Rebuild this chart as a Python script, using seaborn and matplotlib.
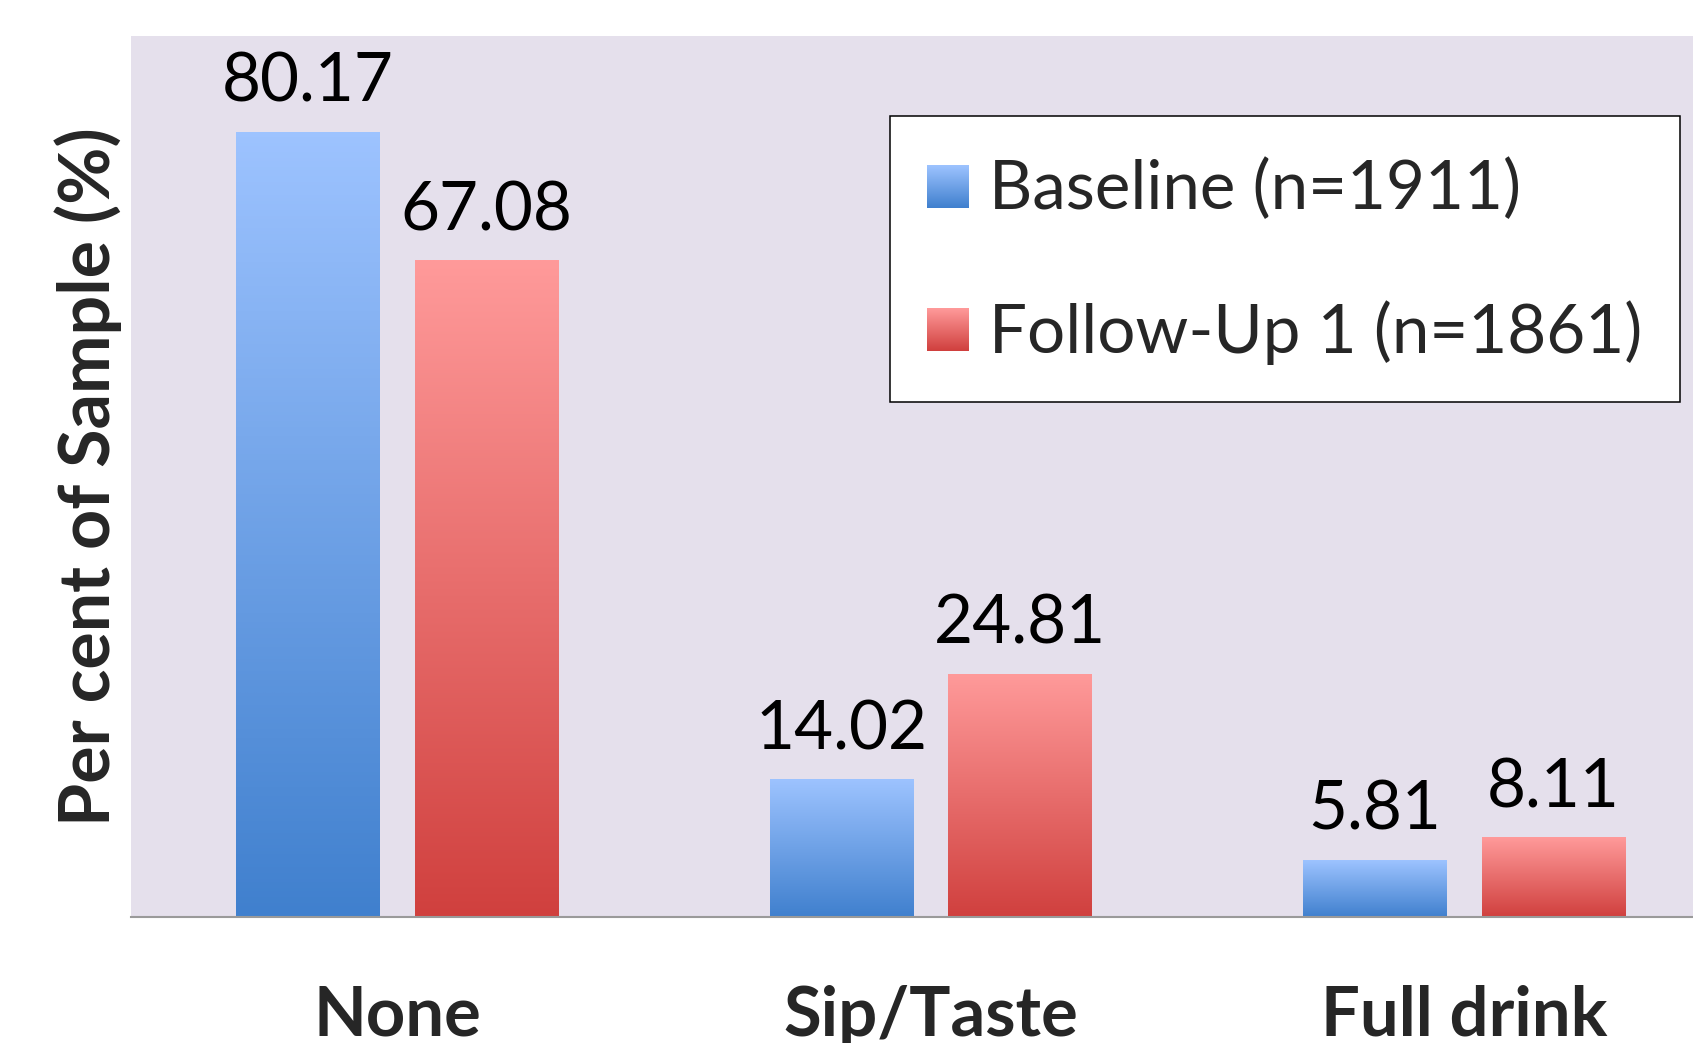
import matplotlib
matplotlib.use("Agg")
import matplotlib.pyplot as plt
import seaborn as sns
import numpy as np
import pandas as pd
from matplotlib.colors import LinearSegmentedColormap
from matplotlib.legend_handler import HandlerBase
from matplotlib.image import BboxImage
from matplotlib.transforms import Bbox, TransformedBbox
from matplotlib.patches import Patch

# ---- data ----
categories = ["None", "Sip/Taste", "Full drink"]
series = ["Baseline (n=1911)", "Follow-Up 1 (n=1861)"]
baseline = [80.17, 14.02, 5.81]
followup = [67.08, 24.81, 8.11]
ylabel = "Per cent of Sample (%)"

df = pd.DataFrame({
    "category": categories * 2,
    "series": [series[0]] * len(categories) + [series[1]] * len(categories),
    "value": baseline + followup,
})

# ---- style ----
sns.set_style("white")
plt.rcParams["font.family"] = ["Lato", "DejaVu Sans"]

blue_top, blue_bot = "#9DC3FF", "#4080CE"
red_top, red_bot = "#FF9A9A", "#D0403E"
cmaps = [
    LinearSegmentedColormap.from_list("bl", [blue_bot, blue_top]),
    LinearSegmentedColormap.from_list("rd", [red_bot, red_top]),
]

fig = plt.figure(figsize=(16.93, 10.43), dpi=100)
fig.patch.set_facecolor("white")
ax = fig.add_axes([0.0771, 0.1211, 0.9229, 0.8448])
ax.set_facecolor("#E5E0EC")

sns.barplot(data=df, x="category", y="value", hue="series",
            order=categories, hue_order=series,
            palette=["#6A9BE6", "#E06464"], saturation=1,
            width=0.668, gap=0.195, legend=False, ax=ax)

grad = np.linspace(0, 1, 256).reshape(-1, 1)
for i, cont in enumerate(ax.containers):
    for bar in cont:
        x, y = bar.get_x(), bar.get_y()
        w, h = bar.get_width(), bar.get_height()
        ax.imshow(grad, extent=[x, x + w, y, y + h], origin="lower",
                  aspect="auto", cmap=cmaps[i], interpolation="bilinear",
                  zorder=bar.get_zorder() + 0.1)
        bar.set_alpha(0)
        ax.annotate(f"{h:.2f}", xy=(x + w / 2, y + h), xytext=(0, 21.5),
                    textcoords="offset points", ha="center", va="baseline",
                    fontsize=48.5, color="black")

ax.set_xlim(-0.5, 2.429)
ax.set_ylim(0, 90)
ax.set_yticks([])
ax.set_xlabel("")
ax.set_ylabel(ylabel, fontsize=50.3, fontweight="bold")
ax.yaxis.set_label_coords(-0.0054, 0.5)
ax.tick_params(axis="x", length=0, pad=49, labelsize=49.5)
for lbl in ax.get_xticklabels():
    lbl.set_fontweight("bold")

for s in ["top", "left", "right"]:
    ax.spines[s].set_visible(False)
ax.spines["bottom"].set_color("#9A9A9A")
ax.spines["bottom"].set_linewidth(1.5)


class GradientHandler(HandlerBase):
    """Legend key drawn as a small square with a vertical gradient."""
    def __init__(self, cmap):
        super().__init__()
        self.cmap = cmap

    def create_artists(self, legend, orig_handle, xdescent, ydescent,
                       width, height, fontsize, trans):
        side_w = width
        side_h = width * 1.03
        x0 = -xdescent
        y0 = -ydescent + (height - side_h) / 2
        bb = Bbox.from_bounds(x0, y0, side_w, side_h)
        img = BboxImage(TransformedBbox(bb, trans), cmap=self.cmap,
                        origin="lower", interpolation="bilinear")
        img.set_data(np.linspace(0, 1, 64).reshape(-1, 1))
        return [img]


handles = [Patch(label=s) for s in series]
leg = ax.legend(handles=handles, labels=series,
                handler_map={handles[0]: GradientHandler(cmaps[0]),
                             handles[1]: GradientHandler(cmaps[1])},
                loc="upper left",
                bbox_to_anchor=(889.7 / 1693, 1 - 115.5 / 1043),
                bbox_transform=fig.transFigure,
                fontsize=48.4, frameon=True, fancybox=False,
                edgecolor="black", framealpha=1, facecolor="white",
                handlelength=0.61, handleheight=1.15, handletextpad=0.31,
                labelspacing=1.12, borderpad=0.56, borderaxespad=0)
leg.get_frame().set_linewidth(1.1)

fig.savefig("out.png", dpi=100)
